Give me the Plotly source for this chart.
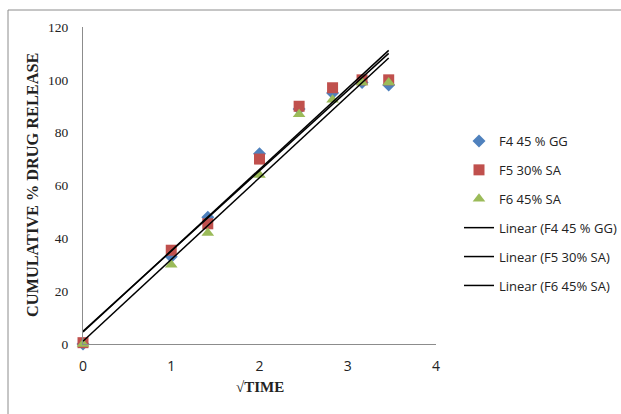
import numpy as np
import plotly.graph_objects as go

sqrt_time = [0, 1, 1.414, 2, 2.449, 2.828, 3.162, 3.464]
f4_gg45 = [0, 33, 48, 72, 89, 95, 99, 98]
f5_sa30 = [0.5, 35.5, 45.5, 70, 90, 97, 100, 100]
f6_sa45 = [0, 30, 42, 64, 87, 92.5, 99, 99]

names = ["F4 45 % GG", "F5 30% SA", "F6 45% SA"]
series = [f4_gg45, f5_sa30, f6_sa45]
colors = ["#4F81BD", "#C0504D", "#9BBB59"]
symbols = ["diamond", "square", "triangle-up"]
sizes = [10, 11, 11]

fig = go.Figure()
for i, (n, s) in enumerate(zip(names, series)):
    fig.add_trace(go.Scatter(
        x=sqrt_time, y=s, mode="markers", name=n,
        marker=dict(color=colors[i], symbol=symbols[i], size=sizes[i]),
        cliponaxis=False, legendgroup=f"g{i}"))

for i, (n, s) in enumerate(zip(names, series)):
    xs = np.array(sqrt_time)
    slope, icpt = np.polyfit(xs, np.array(s), 1)
    xl = [0, max(sqrt_time)]
    fig.add_trace(go.Scatter(
        x=xl, y=[icpt + slope * v for v in xl], mode="lines",
        name=f"Linear ({n})", line=dict(color="black", width=1.5),
        cliponaxis=False, legendgroup=f"l{i}"))

L, R, T, B = 83, 436, 27, 344
W, H = 621, 414

def px(x):
    return (x - L) / (R - L)

def py(y):
    return (B - y) / (B - T)

fig.update_layout(
    width=W, height=H,
    margin=dict(l=L, r=W - R, t=T, b=H - B, autoexpand=False),
    paper_bgcolor="white", plot_bgcolor="white",
    showlegend=True,
    legend=dict(x=px(459), y=py(126), xanchor="left", yanchor="top",
                font=dict(family="Open Sans", size=13, color="#222"),
                tracegroupgap=9, traceorder="grouped",
                itemwidth=30, bgcolor="rgba(0,0,0,0)"),
    xaxis=dict(range=[0, 4], dtick=1, showgrid=False, zeroline=False,
               showline=True, linecolor="#8c8c8c", linewidth=1,
               ticks="", ticklabelstandoff=9, automargin=False,
               tickfont=dict(family="Open Sans", size=14, color="#222")),
    yaxis=dict(range=[0, 120], dtick=20, showgrid=False, zeroline=False,
               showline=True, linecolor="#8c8c8c", linewidth=1,
               ticks="", ticklabelstandoff=11, automargin=False,
               tickfont=dict(family="Liberation Serif", size=13.5, color="#222")),
    annotations=[
        dict(text="<b>√TIME</b>", xref="paper", yref="paper",
             x=px(260), y=py(387), xanchor="center", yanchor="middle",
             showarrow=False,
             font=dict(family="Liberation Serif", size=15, color="#222")),
        dict(text="<b>CUMULATIVE % DRUG RELEASE</b>", xref="paper", yref="paper",
             x=px(32), y=py(185), xanchor="center", yanchor="middle",
             showarrow=False, textangle=-90,
             font=dict(family="Liberation Serif", size=16.3, color="#222")),
    ],
    shapes=[dict(type="rect", xref="paper", yref="paper",
                 x0=px(8), x1=px(630), y0=py(10), y1=py(430),
                 line=dict(color="#8c8c8c", width=1), fillcolor="rgba(0,0,0,0)",
                 layer="below")],
)

fig.write_html("out.html", config={"displayModeBar": False},
               post_script="document.body.style.margin='0';document.body.style.overflow='hidden';")
